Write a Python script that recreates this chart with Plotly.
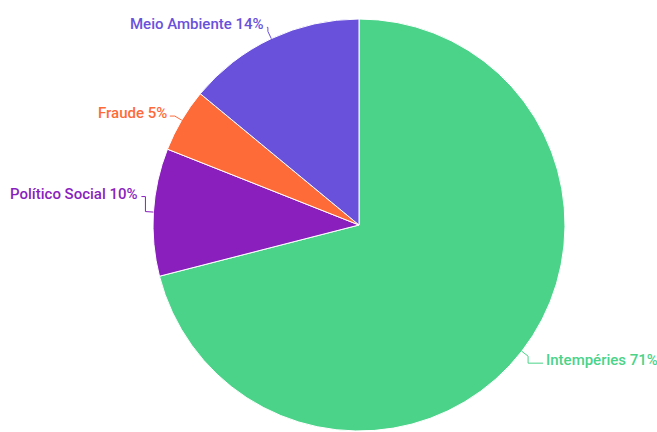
import math
import plotly.graph_objects as go

# ---- data ----
labels = ["Intempéries", "Político Social", "Fraude", "Meio Ambiente"]
values = [71, 10, 5, 14]
colors = ["#4BD38A", "#8A1FBE", "#FF6A39", "#6A51DB"]

# ---- layout settings ----
W, H = 657, 432
CX, CY, R = 359, 225, 206          # pie centre / radius in pixels
ELBOW = 8                          # radial length of leader line
# per-label text offset from the elbow (layout tweaks)
label_dx = [15, -4, -5, -1]
label_dy = [4, -18, -3, -7]
FONT = dict(family="Roboto, sans-serif", size=15, weight=500)

fig = go.Figure(go.Pie(
    labels=labels, values=values, sort=False, direction="clockwise", rotation=0,
    marker=dict(colors=colors, line=dict(color="white", width=1)),
    textinfo="none", hoverinfo="label+percent",
    domain=dict(x=[(CX - R) / W, (CX + R) / W], y=[1 - (CY + R) / H, 1 - (CY - R) / H]),
))

def px2paper(x, y):
    return x / W, 1 - y / H

total = sum(values)
cum = 0
annotations, shapes = [], []
for i, (lab, v) in enumerate(zip(labels, values)):
    mid = (cum + v / 2) / total * 2 * math.pi
    cum += v
    sx, sy = math.sin(mid), -math.cos(mid)
    px, py = CX + R * sx, CY + R * sy
    ex, ey = CX + (R + ELBOW) * sx, CY + (R + ELBOW) * sy
    right = sx >= 0
    tx = ex + label_dx[i]
    ty = ey + label_dy[i]
    line_end_y = ty + 3
    pts = [(px, py), (ex, ey), (ex, line_end_y), (tx, line_end_y)]
    path = "M " + " L ".join(f"{a/W},{1-b/H}" for a, b in pts)
    shapes.append(dict(type="path", path=path, xref="paper", yref="paper",
                       line=dict(color=colors[i], width=1)))
    ax_, ay_ = px2paper(tx + (1 if right else -1), ty)
    pct = round(v / total * 100)
    annotations.append(dict(
        x=ax_, y=ay_, xref="paper", yref="paper", showarrow=False,
        text=f"{lab} {pct}%", xanchor="left" if right else "right", yanchor="middle",
        font=dict(color=colors[i], **FONT),
    ))

fig.update_layout(
    width=W, height=H, margin=dict(l=0, r=0, t=0, b=0),
    showlegend=False, paper_bgcolor="white", plot_bgcolor="white",
    annotations=annotations, shapes=shapes,
)
fig.write_html("out.html", config={"displayModeBar": False},
               post_script="document.body.style.margin='0';document.body.style.overflow='hidden';")
